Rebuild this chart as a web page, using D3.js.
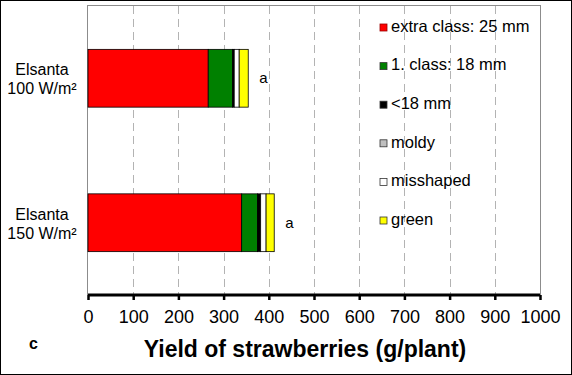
<!DOCTYPE html>
<html>
<head>
<meta charset="utf-8">
<script src="https://cdnjs.cloudflare.com/ajax/libs/d3/7.8.5/d3.min.js"></script>
<style>
  body { margin: 0; background: #fff; }
  svg { display: block; font-family: Arial, "Liberation Sans", sans-serif; }
</style>
</head>
<body>
<div id="chart"></div>
<script>
// categories (two text lines each)
const categories = ['Elsanta 100', 'Elsanta 150']
const categoryLines = [['Elsanta', '100 W/m²'], ['Elsanta', '150 W/m²']]

// series, bottom of the stack first
const seriesNames = ['extra class: 25 mm', '1. class: 18 mm', '<18 mm', 'moldy', 'misshaped', 'green']
const seriesColors = ['#ff0000', '#008000', '#000000', '#bfbfbf', '#ffffff', '#ffff00']

// values in g/plant, one per category
const extraClass = [266, 340]
const firstClass = [54, 35]
const under18 = [3.5, 7]
const moldy = [0, 0]
const misshaped = [11, 12]
const green = [20, 18]

const letters = ['a', 'a']
const xTicks = [0, 100, 200, 300, 400, 500, 600, 700, 800, 900, 1000]

const c_width = 572
const c_height = 375
const pLeft = 88, pRight = 540, pTop = 6, pBottom = 295

const rows = categories.map((c, i) => ({
  cat: c,
  'extra class: 25 mm': extraClass[i],
  '1. class: 18 mm': firstClass[i],
  '<18 mm': under18[i],
  'moldy': moldy[i],
  'misshaped': misshaped[i],
  'green': green[i]
}))

const svg = d3.select('#chart')
  .append('svg')
  .attr('width', c_width)
  .attr('height', c_height)

svg.append('rect')
  .attr('x', 0.5).attr('y', 0.5)
  .attr('width', c_width - 1).attr('height', c_height - 1)
  .attr('fill', '#fff').attr('stroke', '#000')

const xScale = d3.scaleLinear().domain([0, 1000]).range([pLeft, pRight])
const yScale = d3.scaleBand().domain(categories).range([pTop, pBottom])
  .paddingInner(0.6).paddingOuter(0.3)

// plot area frame
svg.append('rect')
  .attr('x', pLeft - 0.5).attr('y', pTop - 0.5)
  .attr('width', pRight - pLeft + 1).attr('height', pBottom - pTop)
  .attr('fill', 'none').attr('stroke', '#8c8c8c')

// dashed grid
svg.append('g')
  .selectAll('line')
  .data(xTicks.filter(d => d > 0 && d < 1000))
  .enter()
  .append('line')
  .attr('x1', d => Math.round(xScale(d)) + 0.5)
  .attr('x2', d => Math.round(xScale(d)) + 0.5)
  .attr('y1', pTop)
  .attr('y2', pBottom)
  .attr('stroke', '#b3b3b3')
  .attr('stroke-dasharray', '8,5')

// stacked bars
const stack = d3.stack().keys(seriesNames)
const layers = stack(rows)

svg.append('g')
  .selectAll('g')
  .data(layers)
  .enter()
  .append('g')
  .attr('fill', (d, i) => seriesColors[i])
  .selectAll('rect')
  .data(d => d.filter(p => p[1] - p[0] > 0))
  .enter()
  .append('rect')
  .attr('x', d => xScale(d[0]))
  .attr('width', d => xScale(d[1]) - xScale(d[0]))
  .attr('y', d => yScale(d.data.cat))
  .attr('height', yScale.bandwidth())
  .attr('stroke', '#000')
  .attr('stroke-width', 0.8)

// significance letters
svg.append('g')
  .selectAll('text')
  .data(rows)
  .enter()
  .append('text')
  .attr('x', d => xScale(d3.sum(seriesNames, k => d[k])) + 11)
  .attr('y', d => yScale(d.cat) + yScale.bandwidth() / 2 + 5)
  .attr('font-size', 15)
  .attr('fill', '#000')
  .text((d, i) => letters[i])

// category labels
const catG = svg.append('g')
  .selectAll('text')
  .data(categories)
  .enter()
  .append('text')
  .attr('text-anchor', 'middle')
  .attr('font-size', 16)
  .attr('fill', '#000')
catG.each(function (d, i) {
  const cy = yScale(d) + yScale.bandwidth() / 2
  d3.select(this).selectAll('tspan')
    .data(categoryLines[i])
    .enter()
    .append('tspan')
    .attr('x', 42)
    .attr('y', (t, j) => cy - 3 + j * 19)
    .text(t => t)
})

// x axis
const xAxis = d3.axisBottom(xScale).tickValues(xTicks).tickSize(5).tickPadding(10)
  .tickFormat(d3.format('d'))
const axisG = svg.append('g')
  .attr('transform', 'translate(0,' + pBottom + ')')
  .call(xAxis)
axisG.select('.domain').attr('stroke', '#000').attr('stroke-width', 3)
  .attr('d', 'M' + pLeft + ',0H' + pRight)
axisG.selectAll('.tick line').attr('stroke', '#000').attr('stroke-width', 2.5)
axisG.selectAll('.tick text')
  .attr('font-size', 18)
  .attr('font-family', 'Arial, "Liberation Sans", sans-serif')
  .attr('fill', '#000')

svg.append('text')
  .attr('x', 305)
  .attr('y', 357)
  .attr('text-anchor', 'middle')
  .attr('font-size', 23)
  .attr('font-weight', 'bold')
  .text('Yield of strawberries (g/plant)')

svg.append('text')
  .attr('x', 33.5)
  .attr('y', 349)
  .attr('text-anchor', 'middle')
  .attr('font-size', 16)
  .attr('font-weight', 'bold')
  .text('c')

// legend
const legend = svg.append('g')
const items = legend.selectAll('g')
  .data(seriesNames)
  .enter()
  .append('g')
  .attr('transform', (d, i) => 'translate(379,' + (27 + i * 38.6) + ')')
items.append('rect')
  .attr('x', 1).attr('y', -3)
  .attr('width', 7).attr('height', 7)
  .attr('fill', (d, i) => seriesColors[i])
  .attr('stroke', (d, i) => i === 0 ? '#900' : '#333')
  .attr('stroke-width', 0.8)
items.append('text')
  .attr('x', 12)
  .attr('y', 4.8)
  .attr('font-size', 16.5)
  .attr('fill', '#000')
  .text(d => d)
</script>
</body>
</html>
